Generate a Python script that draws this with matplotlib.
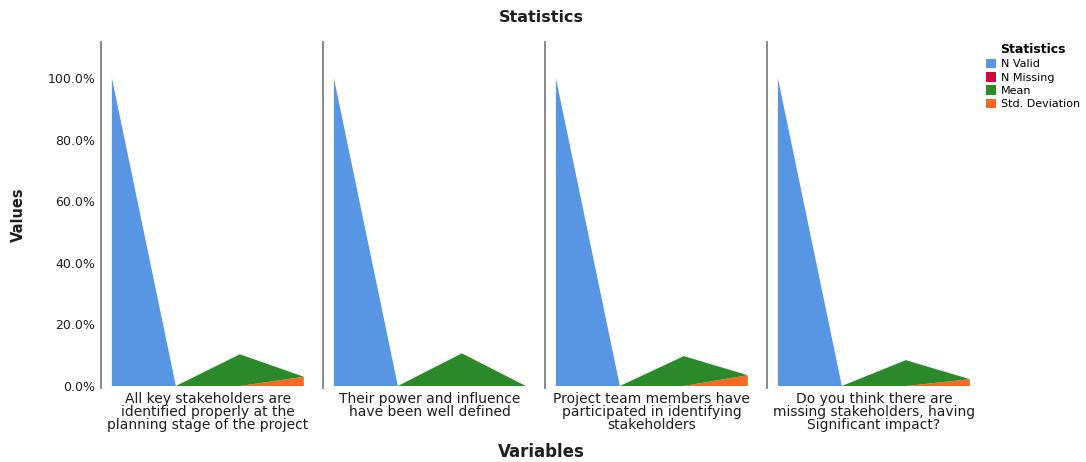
import numpy as np
import matplotlib
matplotlib.use("Agg")
import matplotlib.pyplot as plt
from matplotlib.patches import Patch
from matplotlib.ticker import FuncFormatter
import matplotlib.transforms as mtransforms

plt.rcParams['font.family'] = ['DejaVu Sans']

# ----------------------------------------------------------------------
# Data (in %)
# ----------------------------------------------------------------------
variables = [
    "All key stakeholders are\nidentified properly at the\nplanning stage of the project",
    "Their power and influence\nhave been well defined",
    "Project team members have\nparticipated in identifying\nstakeholders",
    "Do you think there are\nmissing stakeholders, having\nSignificant impact?",
]
statistics = ["N Valid", "N Missing", "Mean", "Std. Deviation"]
n_valid = [100.0, 100.0, 100.0, 100.0]
n_missing = [0.0, 0.0, 0.0, 0.0]
mean = [10.3, 10.6, 9.7, 8.4]
std_dev = [3.0, 0.0, 3.5, 2.2]

colors = {"N Valid": "#5895e3", "N Missing": "#d3073c",
          "Mean": "#2a8a2a", "Std. Deviation": "#f76a25"}

# ----------------------------------------------------------------------
W, H = 1086, 462
fig = plt.figure(figsize=(W / 100, H / 100), dpi=100)

left0, pw = 101, 222
bottom, top = 388, 42
xpos = np.arange(len(statistics))

for i, var in enumerate(variables):
    ax = fig.add_axes([(left0 + i * pw) / W, (H - bottom) / H, pw / W, (bottom - top) / H])
    # one value per statistic, each series non-zero only at its own category
    series = {
        "N Valid": [n_valid[i], 0, 0, 0],
        "N Missing": [0, n_missing[i], 0, 0],
        "Mean": [0, 0, mean[i], 0],
        "Std. Deviation": [0, 0, 0, std_dev[i]],
    }
    order = ["Std. Deviation", "Mean", "N Missing", "N Valid"]
    ax.stackplot(xpos, *[series[k] for k in order],
                 colors=[colors[k] for k in order], linewidth=0)
    ax.set_xlim(-0.17, 3.3)
    ax.set_ylim(-0.65, 111.7)
    for s in ["top", "right", "bottom"]:
        ax.spines[s].set_visible(False)
    ax.spines["left"].set_color("#808080")
    ax.spines["left"].set_linewidth(1.3)
    ax.set_xticks([])
    ax.set_yticks(np.arange(0, 101, 20))
    ax.tick_params(axis="y", length=0, pad=4, labelsize=9, labelcolor="#1e1e1e")
    if i == 0:
        ax.yaxis.set_major_formatter(FuncFormatter(lambda v, p: f"{v:.1f}%"))
    else:
        ax.set_yticklabels([])
    trans = mtransforms.blended_transform_factory(ax.transData, ax.transAxes)
    ax.text(1.5, -0.012, var, transform=trans, ha="center", va="top",
            fontsize=10, color="#1e1e1e", linespacing=0.92)

fig.text(541 / W, 1 - 17 / H, "Statistics", ha="center", va="center",
         fontsize=11.5, fontweight="bold", color="#1e1e1e")
fig.text(18 / W, 1 - 215 / H, "Values", ha="center", va="center", rotation=90,
         fontsize=10.5, fontweight="bold", color="#1e1e1e")
fig.text(541 / W, 1 - 452 / H, "Variables", ha="center", va="center",
         fontsize=12, fontweight="bold", color="#1e1e1e")

handles = [Patch(facecolor=colors[k], edgecolor="none") for k in statistics]
leg = fig.legend(handles, statistics, title="Statistics", loc="upper left",
                 bbox_to_anchor=(978 / W, 1 - 35 / H), frameon=False,
                 fontsize=8, title_fontproperties={"weight": "bold", "size": 9},
                 handlelength=0.95, handleheight=0.95, handletextpad=0.4,
                 labelspacing=0.25, borderpad=0.2)

fig.savefig("out.png", dpi=100)
